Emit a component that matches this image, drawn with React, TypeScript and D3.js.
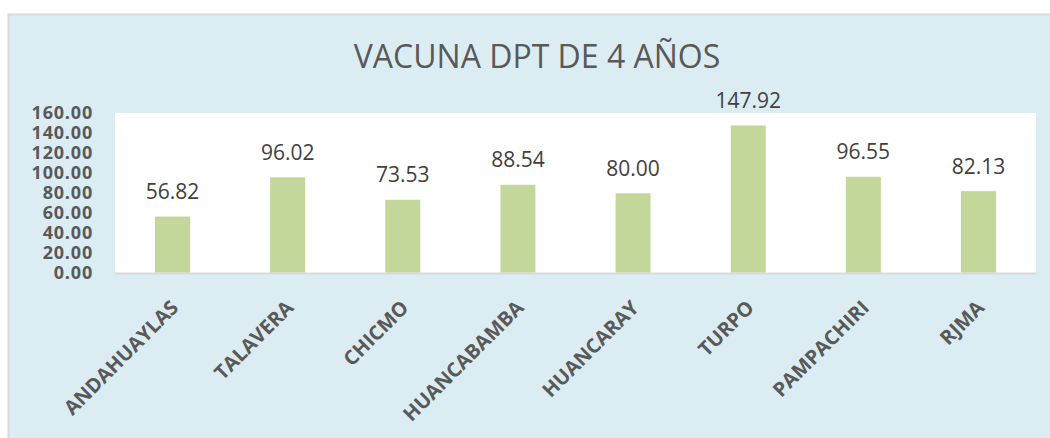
import React from "react";
import * as d3 from "d3";

const categories = ["ANDAHUAYLAS", "TALAVERA", "CHICMO", "HUANCABAMBA", "HUANCARAY", "TURPO", "PAMPACHIRI", "RJMA"];
const values = [56.82, 96.02, 73.53, 88.54, 80.0, 147.92, 96.55, 82.13];
const yTicks = [0, 20, 40, 60, 80, 100, 120, 140, 160];
const title = "VACUNA DPT DE 4 AÑOS";

const W = 1050;
const H = 438;
const PLOT = { left: 115, right: 1036, top: 113, bottom: 273 };
const FONT = "'Open Sans', sans-serif";

const App: React.FC = () => {
    const x = d3.scaleBand<string>().domain(categories).range([PLOT.left, PLOT.right]).paddingInner(0.69).paddingOuter(0.345);
    const y = d3.scaleLinear().domain([0, 160]).range([PLOT.bottom, PLOT.top]);

    return (
        <div style={{ position: "absolute", left: 0, top: 0 }}>
            <svg width={W} height={H} style={{ display: "block" }}>
                {/* fondo del gráfico */}
                <rect x={8.5} y={14.5} width={W + 10} height={H + 10} fill="#DBEDF3" stroke="#D9D9D9" strokeWidth={2} />
                <rect x={PLOT.left} y={PLOT.top} width={PLOT.right - PLOT.left} height={PLOT.bottom - PLOT.top} fill="#ffffff" />

                <text x={537} y={68} textAnchor="middle" fontFamily={FONT} fontSize={32} fill="#595959">
                    {title}
                </text>

                {/* eje y */}
                {yTicks.map((t) => (
                    <text key={t} x={93} y={y(t)} dy="0.35em" textAnchor="end" fontFamily={FONT} fontWeight="bold" fontSize={18} letterSpacing={0.8} fill="#595959">
                        {t.toFixed(2)}
                    </text>
                ))}

                {/* barras */}
                {categories.map((c, i) => (
                    <rect key={c} x={x(c)} y={y(values[i])} width={x.bandwidth()} height={y(0) - y(values[i])} fill="#C4D79B" stroke="#ffffff" strokeWidth={0.6} />
                ))}

                <line x1={PLOT.left} x2={PLOT.right} y1={PLOT.bottom + 0.5} y2={PLOT.bottom + 0.5} stroke="#D9D9D9" strokeWidth={2} />

                {/* etiquetas de datos */}
                {categories.map((c, i) => (
                    <text key={c} x={(x(c) ?? 0) + x.bandwidth() / 2} y={y(values[i]) - 17} textAnchor="middle" fontFamily={FONT} fontSize={21} fill="#404040">
                        {values[i].toFixed(2)}
                    </text>
                ))}

                {/* eje x */}
                {categories.map((c) => {
                    const cx = (x(c) ?? 0) + x.bandwidth() / 2;
                    return (
                        <text key={c} transform={`translate(${cx - 3},${PLOT.bottom + 26}) rotate(-45)`} textAnchor="end" dy="0.71em" fontFamily={FONT} fontWeight="bold" fontSize={20} fill="#595959">
                            {c}
                        </text>
                    );
                })}
            </svg>
        </div>
    );
};

export default App;
